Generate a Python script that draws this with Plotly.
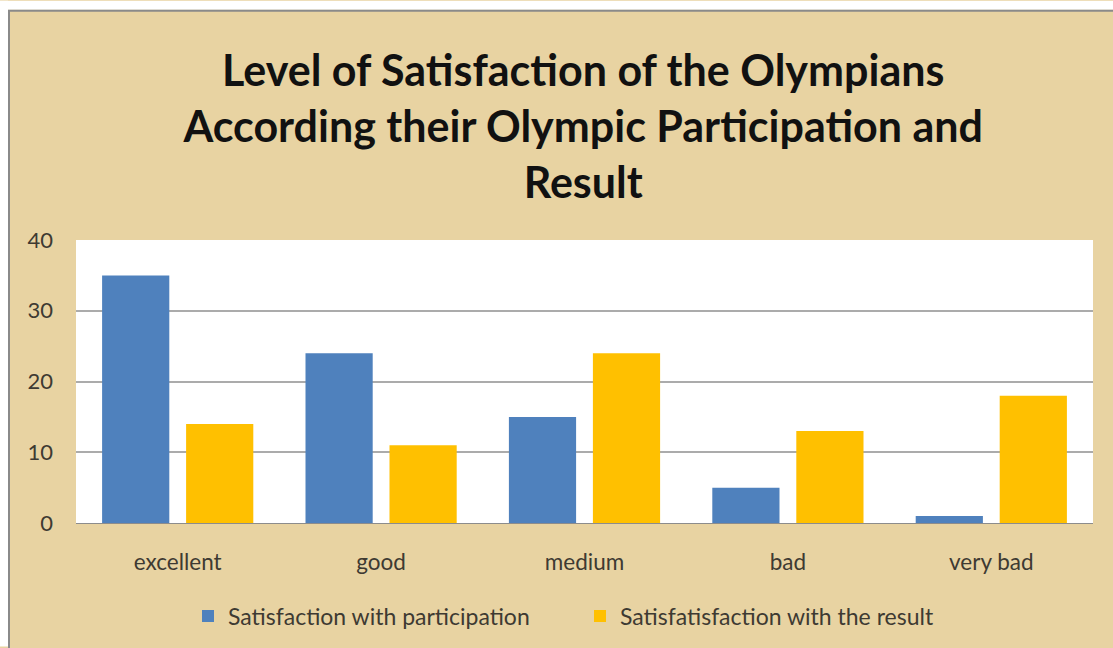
import plotly.graph_objects as go

categories = ["excellent", "good", "medium", "bad", "very bad"]
participation = [35, 24, 15, 5, 1]
result = [14, 11, 24, 13, 18]
series_names = ["Satisfaction with participation", "Satisfatisfaction with the result"]
y_ticks = [0, 10, 20, 30, 40]

W, H = 1113, 648
ML, MR, MT, MB = 76, 20, 240, 124
PW, PH = W - ML - MR, H - MT - MB

def px_x(p):
    return (p - ML) / PW

def px_y(p):
    return 1 - (p - MT) / PH

fig = go.Figure()
fig.add_trace(go.Bar(x=categories, y=participation, name=series_names[0],
                     marker=dict(color="#4F81BD", line=dict(width=0)), legend="legend"))
fig.add_trace(go.Bar(x=categories, y=result, name=series_names[1],
                     marker=dict(color="#FFC000", line=dict(width=0)), legend="legend2"))

leg_common = dict(orientation="h", yanchor="middle", y=px_y(616),
                  font=dict(size=23, color="#3E3A32"), bgcolor="rgba(0,0,0,0)",
                  itemwidth=30, xanchor="left")

fig.update_layout(
    width=W, height=H,
    margin=dict(l=ML, r=MR, t=MT, b=MB),
    paper_bgcolor="#E8D3A2",
    plot_bgcolor="white",
    barmode="group",
    bargap=0.174,
    bargroupgap=0.2,
    font=dict(family="Lato, Open Sans, sans-serif", color="#3E3A32"),
    title=dict(
        text="<b>Level of Satisfaction of the Olympians<br>According their Olympic Participation and<br>Result</b>",
        x=0.524, xanchor="center", y=0.867, yanchor="middle",
        font=dict(size=43, color="#111111", family="Lato, Open Sans, sans-serif"),
    ),
    legend=dict(leg_common, x=px_x(188)),
    legend2=dict(leg_common, x=px_x(580)),
    showlegend=True,
    xaxis=dict(showgrid=False, showline=True, linecolor="#8C8C8C", linewidth=1,
               tickfont=dict(size=22.5, color="#3E3A32"), ticks="", ticklabelstandoff=19),
    yaxis=dict(range=[0, 40], tickvals=y_ticks, showgrid=True, gridcolor="#ABABAB",
               gridwidth=1.5, zeroline=False, showline=False,
               tickfont=dict(size=22, color="#3E3A32"), ticks="", ticklabelstandoff=22),
    shapes=[
        dict(type="rect", xref="paper", yref="paper",
             x0=px_x(0), x1=px_x(W), y0=px_y(0), y1=px_y(9),
             fillcolor="white", line=dict(width=0), layer="above"),
        dict(type="rect", xref="paper", yref="paper",
             x0=px_x(0), x1=px_x(8), y0=px_y(0), y1=px_y(H),
             fillcolor="white", line=dict(width=0), layer="above"),
        dict(type="rect", xref="paper", yref="paper",
             x0=px_x(9), x1=px_x(W + 20), y0=px_y(H + 20), y1=px_y(10),
             fillcolor="rgba(0,0,0,0)", line=dict(color="#8A8A8A", width=2), layer="above"),
    ],
)
fig.write_html("out.html")
